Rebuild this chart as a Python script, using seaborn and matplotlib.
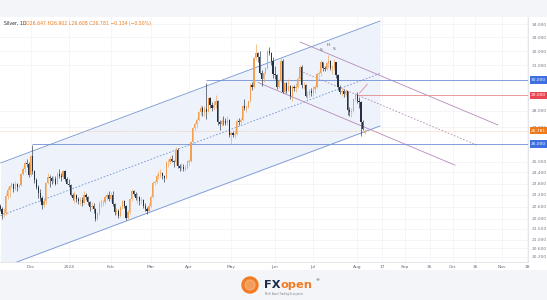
import numpy as np
import pandas as pd
import matplotlib
matplotlib.use("Agg")
import matplotlib.pyplot as plt
import seaborn as sns
from matplotlib.patches import Rectangle, Circle
from matplotlib.ticker import NullLocator

sns.set_theme(style="white")
plt.rcParams['font.family'] = ['DejaVu Sans']

# ---------------- data ----------------
holidays = ['2023-12-25', '2024-01-01', '2024-03-29']

opens = [
    22.62,22.50,22.25,22.30,23.15,23.45,23.65,23.75,23.50,23.80,23.60,23.70,24.30,24.60,24.90,24.85,
    24.25,25.30,24.45,24.00,23.60,23.30,23.05,22.70,22.90,23.85,24.15,24.10,23.95,24.05,23.80,24.30,24.20,24.15,24.45,24.05,
    23.80,23.70,23.20,23.05,23.20,23.00,22.90,22.95,22.80,23.20,23.10,22.85,22.60,22.65,22.50,22.00,22.30,22.75,22.80,22.85,23.10,23.20,
    23.00,23.20,22.75,22.35,22.40,22.15,22.60,22.90,22.65,22.05,22.35,23.00,23.40,23.25,23.05,23.10,22.90,22.95,22.65,22.50,22.40,
    22.65,23.10,23.85,23.90,24.20,24.30,24.35,24.20,24.10,24.95,25.00,25.15,25.05,24.95,25.65,24.75,24.65,24.70,24.60,24.65,
    24.95,25.05,26.10,26.95,27.20,27.45,27.90,28.20,27.90,28.10,27.95,28.80,28.35,28.20,28.35,28.65,27.30,27.20,27.40,27.35,27.25,27.45,
    26.50,26.65,26.55,26.60,27.40,27.30,27.45,28.30,28.20,28.25,28.60,29.70,29.55,31.50,31.85,31.60,30.50,30.10,30.45,30.80,32.00,31.90,31.30,
    30.40,30.35,29.55,29.95,31.30,29.20,29.80,29.30,29.60,28.95,29.55,29.45,29.55,30.05,30.90,29.65,29.70,28.95,29.00,29.25,
    29.15,29.40,29.55,30.40,30.50,31.20,30.80,30.75,31.15,31.30,30.85,30.90,31.20,30.35,29.55,29.20,29.25,29.10,29.25,28.05,27.95,28.00,28.75,
    29.00,28.65,28.55,27.30,26.647,
]
highs = [
    22.75,22.60,22.55,23.30,23.60,23.70,23.90,23.85,23.95,23.85,23.80,24.35,24.70,25.05,25.15,24.95,
    25.35,25.92,24.55,24.10,23.70,23.50,23.15,23.00,23.90,24.35,24.25,24.20,24.20,24.20,24.40,24.60,24.35,24.55,24.55,24.15,
    24.05,23.75,23.30,23.40,23.25,23.10,23.10,23.10,23.40,23.30,23.15,22.90,22.85,22.80,22.55,22.35,22.90,23.00,22.95,23.20,23.30,23.40,
    23.35,23.40,22.80,22.55,22.50,22.65,22.95,22.95,22.70,22.45,23.05,23.50,23.45,23.35,23.30,23.15,23.10,23.00,22.80,22.60,22.80,
    23.20,23.95,24.00,24.30,24.45,24.60,24.40,24.25,25.05,25.15,25.30,25.35,25.10,25.80,25.75,24.85,24.90,24.85,24.80,25.10,
    25.15,26.15,27.00,27.30,27.55,28.00,28.40,28.30,28.30,29.80,28.90,28.85,28.55,28.60,29.00,28.70,27.45,27.50,27.65,27.55,27.70,27.50,
    26.75,26.75,26.90,27.50,27.55,27.55,28.35,28.75,28.40,28.65,29.80,29.85,31.55,32.50,31.95,32.00,30.70,30.55,30.90,32.10,32.30,31.95,31.55,
    30.95,30.40,30.05,31.55,31.45,29.85,29.90,30.10,29.70,29.70,29.70,29.80,30.20,31.00,31.00,29.90,29.75,29.25,29.40,29.45,
    29.60,29.70,30.50,30.60,31.35,31.25,30.95,31.20,31.75,31.40,31.05,31.45,31.25,30.40,29.65,29.45,29.40,29.35,29.30,28.25,28.15,28.80,29.15,
    29.20,28.90,28.60,27.45,26.902,
]
lows = [
    22.40,22.00,22.10,22.20,23.00,23.10,23.55,23.35,23.45,23.40,23.55,23.65,24.25,24.40,24.70,24.15,
    24.20,24.30,23.85,23.50,23.05,22.90,22.50,22.60,22.75,23.80,23.60,23.75,23.85,23.70,23.75,24.10,23.95,24.05,23.95,23.75,
    23.60,23.15,22.95,22.80,22.85,22.75,22.70,22.65,22.75,22.95,22.70,22.40,22.50,22.30,21.90,21.95,22.20,22.60,22.65,22.75,22.95,22.90,
    22.85,22.65,22.20,22.25,22.05,22.10,22.50,22.55,21.95,22.00,22.25,22.90,23.15,22.95,22.80,22.70,22.75,22.55,22.40,22.25,22.30,
    22.55,23.05,23.70,23.85,24.05,24.15,24.05,23.90,24.05,24.70,24.85,24.95,24.70,24.80,24.65,24.50,24.55,24.50,24.45,24.60,
    24.75,24.95,26.05,26.80,26.95,27.40,27.75,27.70,27.70,27.50,27.90,28.20,28.00,28.05,28.20,27.15,26.80,27.05,27.10,27.15,27.10,26.40,
    26.00,26.40,26.35,26.55,27.10,27.20,27.40,28.05,27.90,28.15,28.55,29.35,29.45,31.40,31.20,30.40,29.60,29.85,30.40,30.75,31.70,31.05,30.15,
    30.05,29.40,29.50,29.85,29.15,29.10,29.15,29.25,28.75,28.65,29.30,29.20,29.50,29.95,29.50,29.40,28.85,28.65,28.85,28.95,
    28.95,29.15,29.50,30.20,30.30,30.60,30.60,30.70,30.80,30.65,30.40,30.65,30.15,29.35,29.05,28.95,28.85,28.95,27.75,27.70,27.60,27.90,28.60,
    28.50,28.20,26.45,26.80,26.608,
]
closes = [
    22.50,22.25,22.30,23.15,23.45,23.65,23.75,23.50,23.80,23.60,23.70,24.30,24.60,24.90,24.85,24.25,
    25.30,24.45,24.00,23.60,23.30,23.05,22.70,22.90,23.85,24.15,24.10,23.95,24.05,23.80,24.30,24.20,24.15,24.45,24.05,23.80,
    23.70,23.20,23.05,23.20,23.00,22.90,22.95,22.80,23.20,23.10,22.85,22.60,22.65,22.50,22.00,22.30,22.75,22.80,22.85,23.10,23.20,23.00,
    23.20,22.75,22.35,22.40,22.15,22.60,22.90,22.65,22.05,22.35,23.00,23.40,23.25,23.05,23.10,22.90,22.95,22.65,22.50,22.40,22.65,
    23.10,23.85,23.90,24.20,24.30,24.35,24.20,24.10,24.95,25.00,25.15,25.05,24.95,25.65,24.75,24.65,24.70,24.60,24.65,24.95,
    25.05,26.10,26.95,27.20,27.45,27.90,28.20,27.90,28.10,27.95,28.80,28.35,28.20,28.35,28.65,27.30,27.20,27.40,27.35,27.25,27.45,26.50,
    26.65,26.55,26.60,27.40,27.30,27.45,28.30,28.20,28.25,28.60,29.70,29.55,31.50,31.85,31.60,30.50,30.10,30.45,30.80,32.00,31.90,31.30,30.40,
    30.35,29.55,29.95,31.30,29.20,29.80,29.30,29.60,28.95,29.55,29.45,29.55,30.05,30.90,29.65,29.70,28.95,29.00,29.25,29.15,
    29.40,29.55,30.40,30.50,31.20,30.80,30.75,31.15,31.30,30.85,30.90,31.20,30.35,29.55,29.20,29.25,29.10,29.25,28.05,27.95,28.00,28.75,29.00,
    28.65,28.55,27.30,26.915,26.781,
]

# month labels (first trading day of month) and future axis labels
month_keys = ['2023-12', '2024-01', '2024-02', '2024-03', '2024-04', '2024-05', '2024-06', '2024-07', '2024-08']
month_labels = ['Dec', '2024', 'Feb', 'Mar', 'Apr', 'May', 'Jun', 'Jul', 'Aug']
future_offsets = [9, 21, 34, 46, 58, 72, 85]
future_labels = ['17', 'Sep', '16', 'Oct', '16', 'Nov', '18']

price_ticks = [34.0, 33.0, 32.0, 31.0, 28.0, 27.0, 25.0, 24.4, 23.8, 23.2, 22.6, 22.0, 21.5, 21.0, 20.6, 20.2]

# drawings: (bar index, price)
asc_upper = [(0.3, 24.92), (199.0, 34.23)]
asc_lower = [(0.3, 19.70), (199.0, 27.07)]
asc_mid = [(0.3, 22.15), (199.0, 30.44)]
desc_upper = [(157.2, 32.66), (260.8, 27.13)]
desc_lower = [(135.2, 29.83), (238.3, 24.80)]
desc_mid = [(157.2, 30.61), (250.3, 25.91)]
arrow_line = [(188.2, 29.12), (192.4, 29.73)]
level_blue_hi = 30.0
level_red = 29.0
level_blue_lo = 26.0
level_blue_hi_start = 108
level_blue_lo_start = 17
level_red_start = 187
hs_bars = [168, 172, 175]
hs_text = ['S', 'H', 'S']

title_name = "Silver, 1D"
title_vals = "O26.647 H26.902 L26.608 C26.781 \u22120.134 (\u22120.50%)"

# ---------------- figure ----------------
W, H = 547, 300
fig = plt.figure(figsize=(W / 100, H / 100), dpi=100, facecolor='#f4f5f8')
fig.add_artist(Rectangle((0, 1 - 270 / H), 1, 253 / H, transform=fig.transFigure,
                         facecolor='white', edgecolor='none', zorder=0))

ax = fig.add_axes([0, 1 - 262 / H, 528 / W, 245 / H])
ax.set_facecolor('white')
ax.set_yscale('log')

dates = pd.bdate_range('2023-11-09', '2024-08-07')
dates = dates[~dates.isin(pd.to_datetime(holidays))]
o = np.array(opens); h = np.array(highs); l = np.array(lows); c = np.array(closes)
x = np.arange(len(dates))

up_col, dn_col = '#f2a154', '#253141'
cols = np.where(c >= o, up_col, dn_col)

# ascending channel
ax.fill_between([asc_upper[0][0], asc_upper[1][0]],
                [asc_lower[0][1], asc_lower[1][1]],
                [asc_upper[0][1], asc_upper[1][1]],
                color='#edf2fb', linewidth=0, zorder=1)
blue = '#7393d3'
for seg, ls in ((asc_upper, '-'), (asc_lower, '-'), (asc_mid, (0, (2, 2)))):
    ax.plot([seg[0][0], seg[1][0]], [seg[0][1], seg[1][1]], color=blue, lw=0.6, ls=ls, zorder=2)

# descending channel
purple = '#b48ab8'
for seg, ls in ((desc_upper, '-'), (desc_lower, '-'), (desc_mid, (0, (2, 2)))):
    ax.plot([seg[0][0], seg[1][0]], [seg[0][1], seg[1][1]], color=purple, lw=0.6, ls=ls, zorder=2)
ax.plot([arrow_line[0][0], arrow_line[1][0]], [arrow_line[0][1], arrow_line[1][1]],
        color='#e58aa8', lw=0.6, zorder=4)

xr = 276.5
ax.hlines(level_blue_hi, level_blue_hi_start, xr, color='#6f8fd6', lw=0.6, zorder=2)
ax.hlines(level_blue_lo, level_blue_lo_start, xr, color='#6f8fd6', lw=0.6, zorder=2)
ax.hlines(level_red, level_red_start, xr, color='#e58a8f', lw=0.6, zorder=2)
sns.lineplot(x=[-1, xr], y=[c[-1], c[-1]], ax=ax, color='#f5b880', lw=0.4,
             linestyle=(0, (1, 1)), zorder=2, legend=False)

# candles
ax.vlines(x, l, h, colors=cols, lw=0.45, zorder=3)
ax.bar(x, np.maximum(np.abs(c - o), 0.03), bottom=np.minimum(o, c), width=0.62,
       color=cols, linewidth=0, zorder=3)

for b, t in zip(hs_bars, hs_text):
    ax.text(b, h[b] * 1.018, t, fontsize=3.2, color='#505463', ha='center', va='bottom', zorder=5)

ax.set_xlim(0, xr)
ax.set_ylim(19.97, 34.54)

# x ticks
per = dates.to_period('M').astype(str)
xt = [int(np.where(per == k)[0][0]) for k in month_keys] + [len(dates) - 1 + f for f in future_offsets]
ax.set_xticks(xt)
ax.set_xticklabels(month_labels + future_labels)
ax.tick_params(axis='x', length=0, pad=2.2, labelsize=3.2, colors='#6a6d78')

# y ticks right
ax.yaxis.tick_right()
ax.set_yticks(price_ticks)
ax.set_yticklabels([f"{v:.3f}" for v in price_ticks])
ax.yaxis.set_minor_locator(NullLocator())
ax.tick_params(axis='y', length=0, pad=3, labelsize=3.2, colors='#787b86')
ax.grid(True, color='#f1f2f5', lw=0.5, zorder=0)

for s in ('top', 'left'):
    ax.spines[s].set_visible(False)
for s in ('right', 'bottom'):
    ax.spines[s].set_color('#dfe2e8')
    ax.spines[s].set_linewidth(0.6)

# price axis boxes
ytr = ax.get_yaxis_transform()
for val, txt, col in ((level_blue_hi, f"{level_blue_hi:.3f}", '#3d6fe0'),
                      (level_red, f"{level_red:.3f}", '#ec4552'),
                      (c[-1], f"{c[-1]:.3f}", '#ef7a1a'),
                      (level_blue_lo, f"{level_blue_lo:.3f}", '#3d6fe0')):
    ax.text(1.006, val, txt, transform=ytr, fontsize=3.2, color='white', ha='left', va='center',
            bbox=dict(boxstyle='square,pad=0.35', fc=col, ec='none'), zorder=6, clip_on=False)

# title
fig.text(4 / W, 1 - 23 / H, title_name, fontsize=3.3, color='#2a2e39', va='center', ha='left')
fig.text(25.5 / W, 1 - 23 / H, title_vals, fontsize=3.3, color='#ef7a1a', va='center', ha='left')

# footer logo
ov = fig.add_axes([0, 0, 1, 1], facecolor='none')
ov.set_xlim(0, W); ov.set_ylim(H, 0); ov.axis('off')
ov.add_patch(Circle((250, 285), 8, color='#f27b22'))
ov.add_patch(Circle((250, 285), 5, color='white', alpha=0.25))
ov.text(264, 285.5, 'FX', fontsize=8.2, fontweight='bold', color='#1d2b4b', va='center', ha='left')
ov.text(280.3, 285.5, 'open', fontsize=8.2, fontweight='bold', color='#f27b22', va='center', ha='left')
ov.text(315, 280.5, '\u00ae', fontsize=3, color='#1d2b4b', va='center', ha='left')
ov.text(265, 294, 'Multi Asset Trading Ecosystem', fontsize=1.8, color='#7a7f8c', va='center', ha='left')

fig.savefig('out.png', dpi=100, facecolor=fig.get_facecolor())
